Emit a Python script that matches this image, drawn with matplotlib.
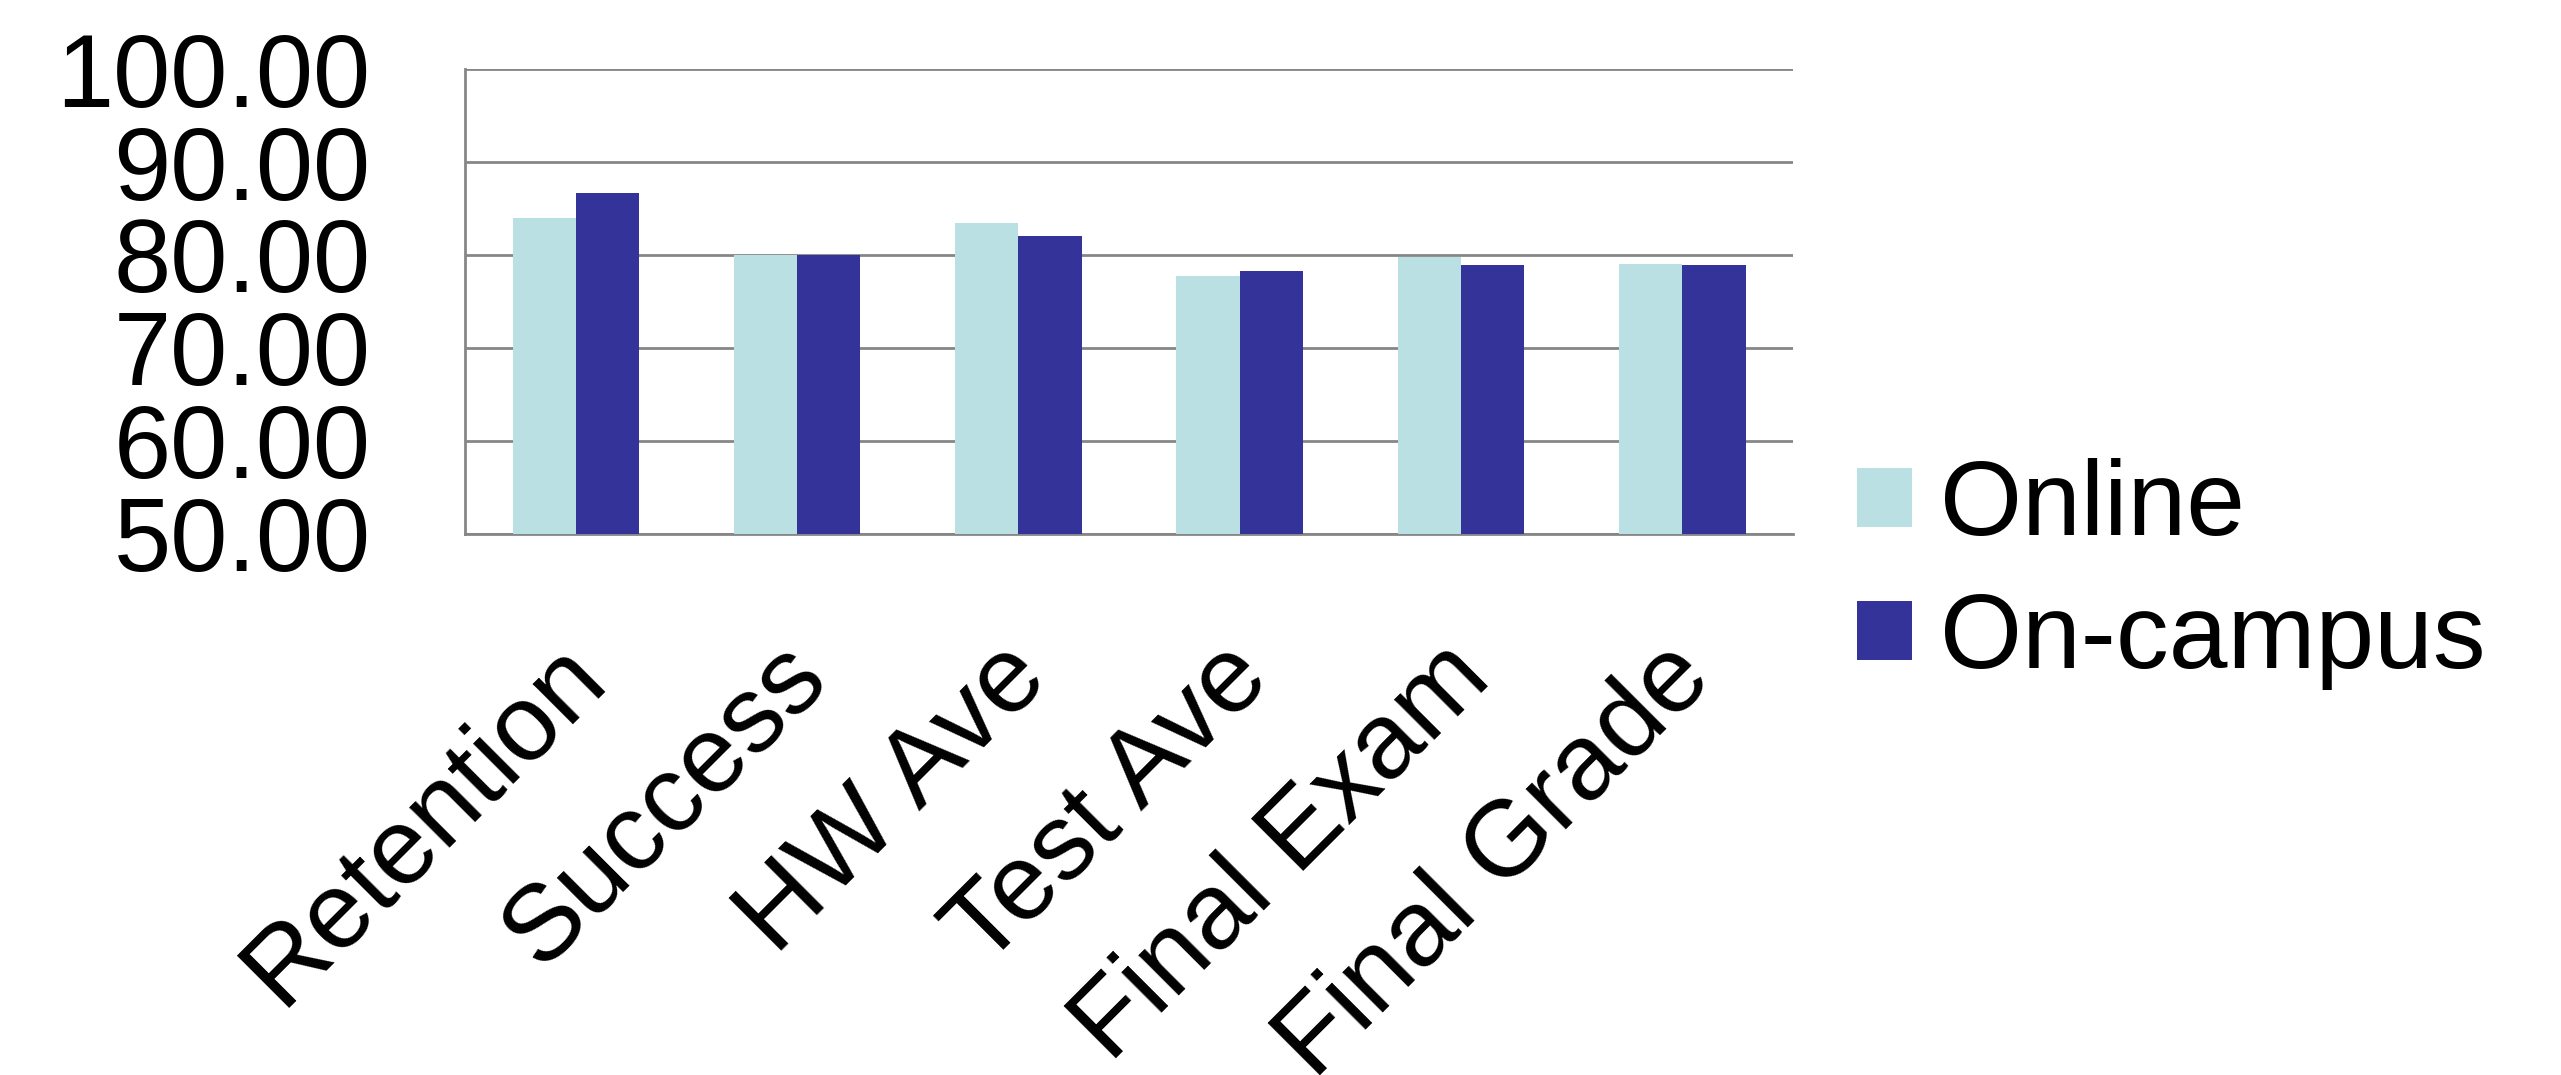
import numpy as np
import matplotlib
matplotlib.use("Agg")
import matplotlib.pyplot as plt
import matplotlib.transforms as mtransforms

# === data ===
categories = ["Retention", "Success", "HW Ave", "Test Ave", "Final Exam", "Final Grade"]
online = [84.0, 80.0, 83.45, 77.75, 79.8, 79.05]
on_campus = [86.7, 80.0, 82.05, 78.25, 78.9, 78.9]
series_names = ["Online", "On-campus"]
y_ticks = [50, 60, 70, 80, 90, 100]
y_tick_labels = ["50.00", "60.00", "70.00", "80.00", "90.00", "100.00"]

plt.rcParams["font.family"] = ["Liberation Sans", "DejaVu Sans"]

fig = plt.figure(figsize=(25.61, 10.75), dpi=100)
ax = fig.add_axes([0.1816, 0.5033, 0.7001 - 0.1816, 0.9358 - 0.5033])

x = np.arange(len(categories))
w = 1 / 3.5
ax.bar(x - w / 2, online, w, color="#BBE0E3", label=series_names[0], zorder=3)
ax.bar(x + w / 2, on_campus, w, color="#333399", label=series_names[1], zorder=3)

ax.set_xlim(-0.5, len(categories) - 0.5)
ax.set_ylim(50, 100)

# grid
ax.set_yticks(y_ticks)
ax.set_yticklabels(y_tick_labels, fontsize=74)
ax.yaxis.grid(True, color="#868686", linewidth=2, zorder=0)
ax.tick_params(axis="y", length=0, pad=68)
for sp in ["top", "right"]:
    ax.spines[sp].set_visible(False)
for sp in ["left", "bottom"]:
    ax.spines[sp].set_color("#868686")
    ax.spines[sp].set_linewidth(2)

# x labels rotated
ax.set_xticks(x)
ax.set_xticklabels(categories, fontsize=78, rotation=45, ha="right", va="center",
                   rotation_mode="anchor")
ax.tick_params(axis="x", length=0, pad=0)
for lab in ax.get_xticklabels():
    lab.set_transform(lab.get_transform() + mtransforms.ScaledTranslation(0.13, -1.27, fig.dpi_scale_trans))

ax.legend(loc="center left", bbox_to_anchor=(0.7251, 0.466), bbox_transform=fig.transFigure,
          fontsize=76, frameon=False, handlelength=0.52, handleheight=0.48,
          handletextpad=0.27, labelspacing=0.32, borderpad=0, borderaxespad=0)

fig.savefig("out.png", dpi=100)
